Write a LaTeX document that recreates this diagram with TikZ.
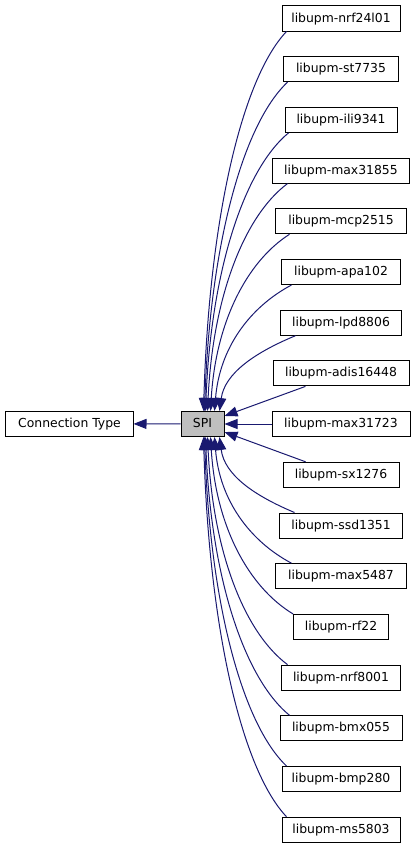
\documentclass[tikz,border=0pt]{standalone}
\usepackage{fontspec}
\setmainfont{DejaVu Sans}
\usetikzlibrary{arrows.meta}
\definecolor{edgeblue}{HTML}{191970}
\definecolor{spigray}{HTML}{BFBFBF}
\begin{document}
\begin{tikzpicture}[x=1bp,y=-1bp,
  box/.style={draw=black, line width=1bp, fill=white, minimum height=25bp, inner sep=0pt,
    font=\fontsize{12.4bp}{14bp}\selectfont, text height=9.5bp, text depth=2.5bp},
  edge/.style={draw=edgeblue, line width=1bp, -{Triangle[length=13bp,width=10bp]}},
]
\useasboundingbox (0,0) rectangle (416,848);
% left nodes
\node[box, minimum width=127bp] (ct) at (69.5,423.8) {Connection Type};
\node[box, minimum width=43bp, fill=spigray] (spi) at (202.5,424) {SPI};
% right nodes
\node[box, minimum width=118bp] (n0) at (341,18.5) {libupm-nrf24l01};
\node[box, minimum width=115bp] (n1) at (341,69.2) {libupm-st7735};
\node[box, minimum width=112bp] (n2) at (341,119.9) {libupm-ili9341};
\node[box, minimum width=137bp] (n3) at (341,170.6) {libupm-max31855};
\node[box, minimum width=131bp] (n4) at (341,221.3) {libupm-mcp2515};
\node[box, minimum width=119bp] (n5) at (341,272) {libupm-apa102};
\node[box, minimum width=121bp] (n6) at (341,322.7) {libupm-lpd8806};
\node[box, minimum width=136bp] (n7) at (341,373.4) {libupm-adis16448};
\node[box, minimum width=138bp] (n8) at (341,424) {libupm-max31723};
\node[box, minimum width=116bp] (n9) at (341,474.8) {libupm-sx1276};
\node[box, minimum width=123bp] (n10) at (341,525.5) {libupm-ssd1351};
\node[box, minimum width=131bp] (n11) at (341,576.2) {libupm-max5487};
\node[box, minimum width=95bp] (n12) at (341,626.9) {libupm-rf22};
\node[box, minimum width=119bp] (n13) at (341,677.6) {libupm-nrf8001};
\node[box, minimum width=122bp] (n14) at (341,728.3) {libupm-bmx055};
\node[box, minimum width=118bp] (n15) at (341,779) {libupm-bmp280};
\node[box, minimum width=118bp] (n16) at (341,829.7) {libupm-ms5803};
% edges
\draw[edge] (spi) -- (ct);
\draw[edge] ([xshift=5bp]n0.south west) .. controls (241.4,79) and (209,221.3) .. ([xshift=23bp]spi.north west);
\draw[edge] ([xshift=4.5bp]n1.south west) .. controls (242.4,124.7) and (210,246.6) .. ([xshift=24bp]spi.north west);
\draw[edge] ([xshift=4bp]n2.south west) .. controls (243.4,170.3) and (211,272) .. ([xshift=25bp]spi.north west);
\draw[edge] ([xshift=15.5bp]n3.south west) .. controls (244,216) and (212.8,297.3) .. ([xshift=27bp]spi.north west);
\draw[edge] ([xshift=14.5bp]n4.south west) .. controls (246.6,261.6) and (215.7,322.7) .. ([xshift=30bp]spi.north west);
\draw[edge] ([xshift=10.5bp]n5.south west) .. controls (249.7,307.2) and (219.6,348) .. ([xshift=34bp]spi.north west);
\draw[edge] ([xshift=15.5bp]n6.south west) .. controls (254.2,352.8) and (224.6,373.7) .. ([xshift=39bp]spi.north west);
\draw[edge] (n7) -- (spi);
\draw[edge] (n8) -- (spi);
\draw[edge] (n9) -- (spi);
\draw[edge] ([xshift=15.5bp]n10.north west) .. controls (253.8,495.4) and (224.5,474.8) .. ([xshift=39bp]spi.south west);
\draw[edge] ([xshift=16.5bp]n11.north west) .. controls (249.7,541) and (219.6,500.1) .. ([xshift=34bp]spi.south west);
\draw[edge] (n12.north west) .. controls (247.9,586.6) and (215.9,525.5) .. ([xshift=30bp]spi.south west);
\draw[edge] ([xshift=6.5bp]n13.north west) .. controls (244,632.2) and (212.8,550.8) .. ([xshift=27bp]spi.south west);
\draw[edge] ([xshift=10bp]n14.north west) .. controls (243.8,677.9) and (211,576.2) .. ([xshift=25bp]spi.south west);
\draw[edge] ([xshift=5bp]n15.north west) .. controls (241.9,723.5) and (209.9,601.5) .. ([xshift=24bp]spi.south west);
\draw[edge] ([xshift=5bp]n16.north west) .. controls (241.4,769.1) and (209,626.9) .. ([xshift=23bp]spi.south west);
\end{tikzpicture}
\end{document}
